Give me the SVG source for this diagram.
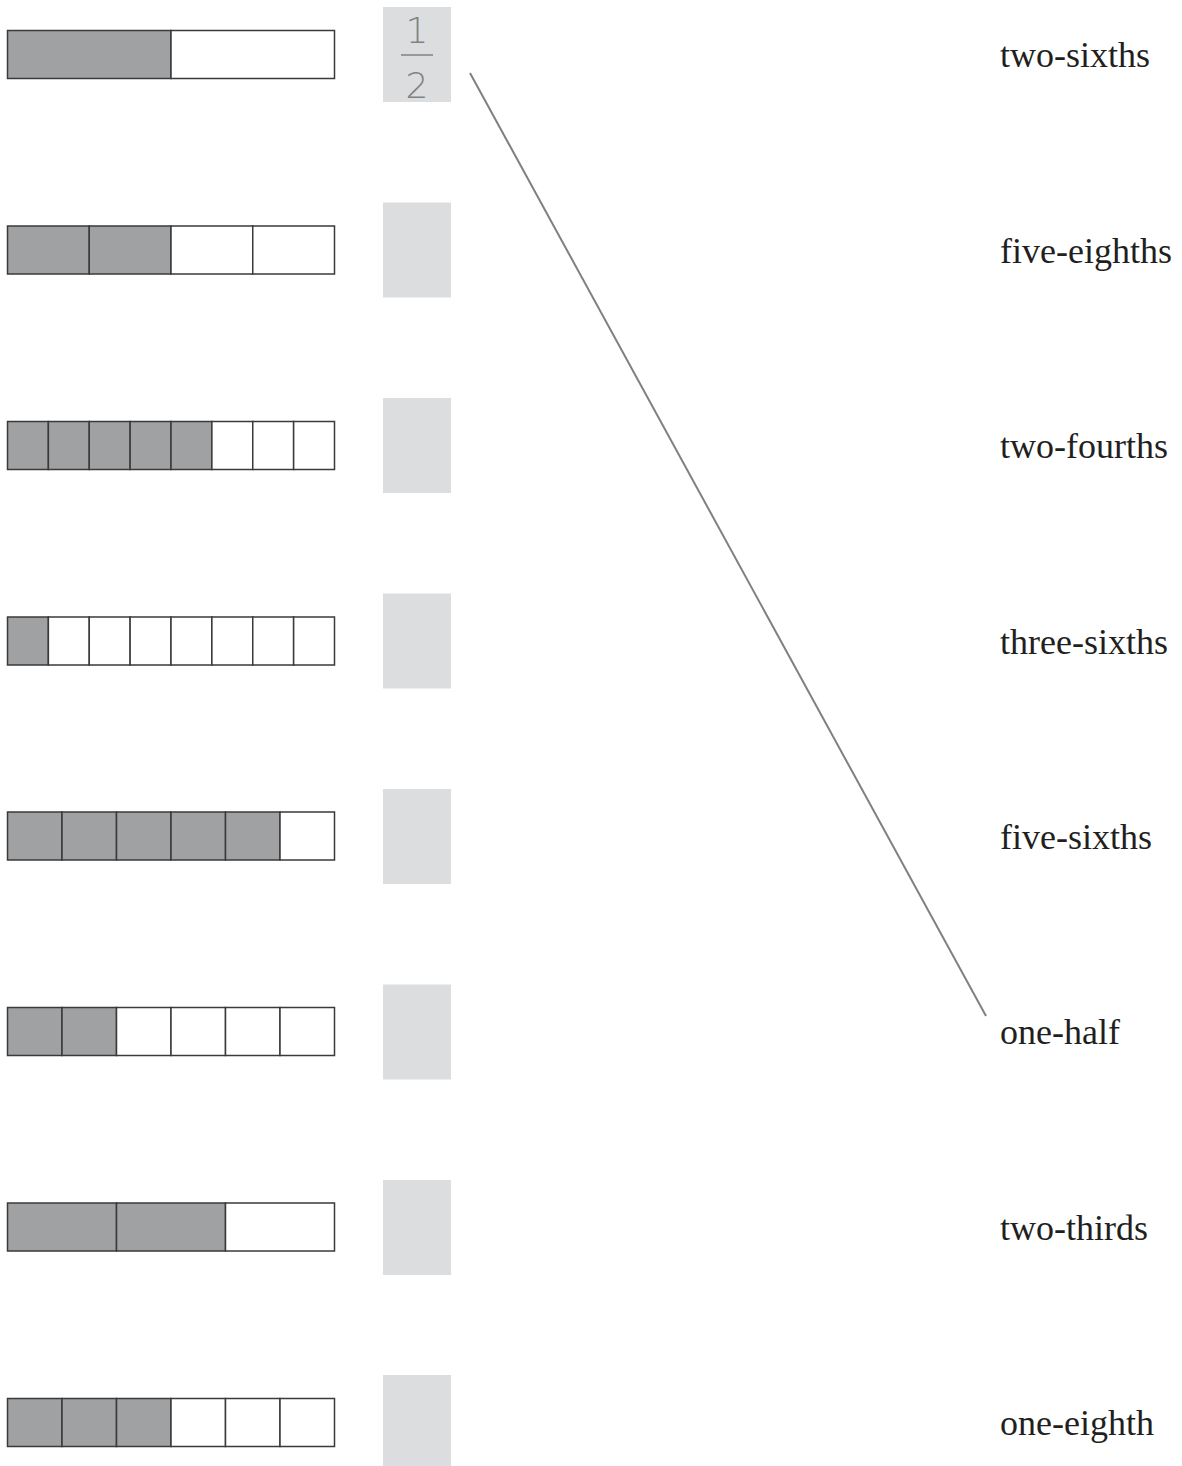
<svg xmlns="http://www.w3.org/2000/svg" width="1182" height="1466" viewBox="0 0 1182 1466">
<style>
.sh{fill:#a0a1a3;stroke:#3a3a3a;stroke-width:1.5}
.em{fill:#ffffff;stroke:#3a3a3a;stroke-width:1.5}
.box{fill:#dcdddf}
.lbl{font-family:"Liberation Serif",serif;font-size:36px;fill:#231f20}
.frac{font-family:"DejaVu Sans","Liberation Sans",sans-serif;font-size:36px;fill:#808285;font-weight:200}
.conn{stroke:#808080;stroke-width:2;fill:none}
</style>
<rect width="1182" height="1466" fill="#ffffff"/>
<g id="bar1">
<rect class="sh" x="7.5" y="30.5" width="163.5" height="48"/>
<rect class="em" x="171" y="30.5" width="163.5" height="48"/>
</g>
<g id="bar2">
<rect class="sh" x="7.5" y="226" width="81.75" height="48"/>
<rect class="sh" x="89.25" y="226" width="81.75" height="48"/>
<rect class="em" x="171" y="226" width="81.75" height="48"/>
<rect class="em" x="252.75" y="226" width="81.75" height="48"/>
</g>
<g id="bar3">
<rect class="sh" x="7.5" y="421.5" width="40.875" height="48"/>
<rect class="sh" x="48.375" y="421.5" width="40.875" height="48"/>
<rect class="sh" x="89.25" y="421.5" width="40.875" height="48"/>
<rect class="sh" x="130.125" y="421.5" width="40.875" height="48"/>
<rect class="sh" x="171" y="421.5" width="40.875" height="48"/>
<rect class="em" x="211.875" y="421.5" width="40.875" height="48"/>
<rect class="em" x="252.75" y="421.5" width="40.875" height="48"/>
<rect class="em" x="293.625" y="421.5" width="40.875" height="48"/>
</g>
<g id="bar4">
<rect class="sh" x="7.5" y="617" width="40.875" height="48"/>
<rect class="em" x="48.375" y="617" width="40.875" height="48"/>
<rect class="em" x="89.25" y="617" width="40.875" height="48"/>
<rect class="em" x="130.125" y="617" width="40.875" height="48"/>
<rect class="em" x="171" y="617" width="40.875" height="48"/>
<rect class="em" x="211.875" y="617" width="40.875" height="48"/>
<rect class="em" x="252.75" y="617" width="40.875" height="48"/>
<rect class="em" x="293.625" y="617" width="40.875" height="48"/>
</g>
<g id="bar5">
<rect class="sh" x="7.5" y="812" width="54.5" height="48"/>
<rect class="sh" x="62" y="812" width="54.5" height="48"/>
<rect class="sh" x="116.5" y="812" width="54.5" height="48"/>
<rect class="sh" x="171" y="812" width="54.5" height="48"/>
<rect class="sh" x="225.5" y="812" width="54.5" height="48"/>
<rect class="em" x="280" y="812" width="54.5" height="48"/>
</g>
<g id="bar6">
<rect class="sh" x="7.5" y="1007.5" width="54.5" height="48"/>
<rect class="sh" x="62" y="1007.5" width="54.5" height="48"/>
<rect class="em" x="116.5" y="1007.5" width="54.5" height="48"/>
<rect class="em" x="171" y="1007.5" width="54.5" height="48"/>
<rect class="em" x="225.5" y="1007.5" width="54.5" height="48"/>
<rect class="em" x="280" y="1007.5" width="54.5" height="48"/>
</g>
<g id="bar7">
<rect class="sh" x="7.5" y="1203" width="109" height="48"/>
<rect class="sh" x="116.5" y="1203" width="109" height="48"/>
<rect class="em" x="225.5" y="1203" width="109" height="48"/>
</g>
<g id="bar8">
<rect class="sh" x="7.5" y="1398.5" width="54.5" height="48"/>
<rect class="sh" x="62" y="1398.5" width="54.5" height="48"/>
<rect class="sh" x="116.5" y="1398.5" width="54.5" height="48"/>
<rect class="em" x="171" y="1398.5" width="54.5" height="48"/>
<rect class="em" x="225.5" y="1398.5" width="54.5" height="48"/>
<rect class="em" x="280" y="1398.5" width="54.5" height="48"/>
</g>
<g id="box1">
<rect class="box" x="383" y="7" width="68" height="95"/>
<text class="frac" x="417" y="43" text-anchor="middle">1</text>
<line x1="401" y1="55" x2="433" y2="55" stroke="#808285" stroke-width="1.5"/>
<text class="frac" x="417" y="98" text-anchor="middle">2</text>
</g>
<g id="box2"><rect class="box" x="383" y="202.5" width="68" height="95"/></g>
<g id="box3"><rect class="box" x="383" y="398" width="68" height="95"/></g>
<g id="box4"><rect class="box" x="383" y="593.5" width="68" height="95"/></g>
<g id="box5"><rect class="box" x="383" y="789" width="68" height="95"/></g>
<g id="box6"><rect class="box" x="383" y="984.5" width="68" height="95"/></g>
<g id="box7"><rect class="box" x="383" y="1180" width="68" height="95"/></g>
<g id="box8"><rect class="box" x="383" y="1375" width="68" height="95"/></g>
<g id="label1"><text class="lbl" x="1000" y="67">two-sixths</text></g>
<g id="label2"><text class="lbl" x="1000" y="262.5">five-eighths</text></g>
<g id="label3"><text class="lbl" x="1000" y="458">two-fourths</text></g>
<g id="label4"><text class="lbl" x="1000" y="653.5">three-sixths</text></g>
<g id="label5"><text class="lbl" x="1000" y="849">five-sixths</text></g>
<g id="label6"><text class="lbl" x="1000" y="1044">one-half</text></g>
<g id="label7"><text class="lbl" x="1000" y="1240">two-thirds</text></g>
<g id="label8"><text class="lbl" x="1000" y="1435">one-eighth</text></g>
<g id="connectors">
<line class="conn" x1="470" y1="73" x2="986" y2="1016"/>
</g>
</svg>
